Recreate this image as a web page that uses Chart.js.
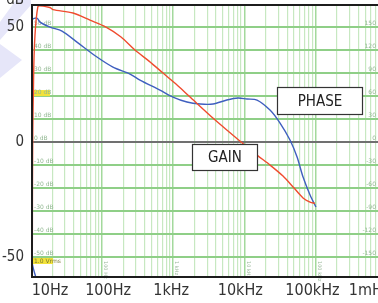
<!DOCTYPE html>
<html>
<head>
<meta charset="utf-8">
<script src="https://cdn.jsdelivr.net/npm/chart.js@4"></script>
<style>
html,body{margin:0;padding:0;background:#fff;}
canvas{display:block;}
</style>
</head>
<body>
<canvas id="bode" width="378" height="303"></canvas>
<script>
// ---- values ----
const gainFreq = [10.4, 10.77, 12.5, 18.5, 20.3, 39, 67.6, 113.5, 184.5, 290, 457, 719, 1094, 1667, 3750, 5900, 9000, 15100, 22970, 35000, 50000, 66900, 84000, 98700];
const gainDb   = [-60, 19.6, 58.9, 58.5, 57.6, 56.1, 53.0, 50.0, 45.7, 40.0, 35.2, 30.0, 25.2, 20.0, 10.0, 4.8, 0.0, -5.7, -10.0, -14.8, -20.0, -24.3, -26.1, -26.7];

const phaseFreq = [11.76, 10.4, 10.4, 12.15, 13.38, 18.5, 27.3, 44.3, 84.7, 142, 247, 341, 651, 993, 1560, 2390, 3630, 5670, 8150, 10890, 15100, 22970, 31800, 43900, 55200, 67000, 84000, 101600];
const phaseDeg  = [-177.4, -156.5, 159.1, 161.7, 156.5, 150.0, 144.8, 130.4, 110.9, 97.8, 88.7, 80.9, 67.8, 58.7, 52.2, 49.6, 49.6, 54.8, 57.4, 56.1, 54.8, 41.7, 24.8, 2.6, -19.6, -45.7, -69.1, -84.8];

const dbGrid      = [-50, -40, -30, -20, -10, 0, 10, 20, 30, 40, 50];
const dbMajor     = [-50, 0, 50];
const phaseTags   = ['-150', '-120', '-90', '-60', '-30', '0', '30', '60', '90', '120', '150'];
const decades     = [10, 100, 1000, 10000, 100000, 1000000];
const freqLabels  = ['10Hz', '100Hz', '1kHz', '10kHz', '100kHz', '1mHz'];
const labelNudge  = [19, 6, -2, -4, -3, -17];
const decadeTags  = ['', '100 Hz', '1 kHz', '10 kHz', '100 kHz', ''];

const notes    = ['PHASE', 'GAIN'];
const noteFreq = [[28840, 452000], [1836, 15100]];
const noteDb   = [[23.9, 12.2], [-0.87, -12.2]];

const X_MIN = 10.33, X_MAX = 758600;
const Y_MIN = -58.7, Y_MAX = 59.6;

const NARROW = '"Liberation Sans Narrow", "DejaVu Sans Condensed", "Roboto Condensed", sans-serif';

// 1..9 per decade for the log grid
const xGrid = [];
decades.forEach(d => [1,2,3,4,5,6,7,8,9].forEach(m => {
  const v = d * m;
  if (v >= X_MIN && v <= X_MAX) xGrid.push(v);
}));
const isDecade = v => Math.abs(Math.log10(v) - Math.round(Math.log10(v))) < 1e-6;

const noPad = s => { s.paddingTop = 0; s.paddingBottom = 0; s.paddingLeft = 0; s.paddingRight = 0; };

const bodePlugin = {
  id: 'bode',
  beforeDraw(chart) {
    const c = chart.ctx;
    c.save();
    c.fillStyle = '#e6e6f9';
    c.beginPath(); c.moveTo(16, 0); c.lineTo(31, 0); c.lineTo(31, 5); c.lineTo(0, 40); c.lineTo(0, 22); c.closePath(); c.fill();
    c.beginPath(); c.moveTo(0, 44); c.lineTo(22, 60); c.lineTo(0, 78); c.closePath(); c.fill();
    c.restore();
  },
  beforeDatasetsDraw(chart) {
    const { ctx: c, chartArea: a, scales } = chart;
    const x = scales.x, y = scales.y;
    c.save();
    c.font = '6px "DejaVu Sans"';
    c.textBaseline = 'alphabetic';
    dbGrid.forEach((v, i) => {
      const py = y.getPixelForValue(v);
      if (v === 20) {
        c.fillStyle = '#f2e23a';
        c.fillRect(a.left + 1, py - 6, 17, 6);
      }
      c.fillStyle = '#92b892';
      c.textAlign = 'left';
      c.fillText(v + ' dB', a.left + 2, py - 2);
      c.textAlign = 'right';
      c.fillText(phaseTags[i], a.right - 2, py - 2);
    });
    // yellow marker under the -50 dB line
    const pm = y.getPixelForValue(-50);
    c.fillStyle = '#f2e23a';
    c.fillRect(a.left + 1, pm + 1, 20, 6);
    c.fillStyle = '#7a7a30';
    c.textAlign = 'left';
    c.fillText('1.0 Vrms', a.left + 2, pm + 6);
    // rotated decade tags near the bottom
    c.fillStyle = '#9ab89a';
    c.font = '5px "DejaVu Sans"';
    decades.forEach((d, i) => {
      if (!decadeTags[i]) return;
      const px = x.getPixelForValue(d);
      c.save();
      c.translate(px + 3.5, a.bottom - 16);
      c.rotate(Math.PI / 2);
      c.textBaseline = 'middle';
      c.textAlign = 'left';
      c.fillText(decadeTags[i], 0, 0);
      c.restore();
    });
    c.restore();
  },
  afterDatasetsDraw(chart) {
    const { ctx: c, chartArea: a, scales } = chart;
    const x = scales.x, y = scales.y;
    c.save();
    // frame
    c.strokeStyle = '#1c1c1c';
    c.lineWidth = 2;
    c.beginPath();
    c.moveTo(a.right, a.top); c.lineTo(a.left, a.top);
    c.lineTo(a.left, a.bottom); c.lineTo(a.right, a.bottom);
    c.stroke();

    // note boxes
    notes.forEach((t, i) => {
      const x0 = Math.round(x.getPixelForValue(noteFreq[i][0])) + 0.5;
      const x1 = Math.round(x.getPixelForValue(noteFreq[i][1])) + 0.5;
      const y0 = Math.round(y.getPixelForValue(noteDb[i][0])) + 0.5;
      const y1 = Math.round(y.getPixelForValue(noteDb[i][1])) + 0.5;
      c.fillStyle = '#fff';
      c.fillRect(x0, y0, x1 - x0, y1 - y0);
      c.strokeStyle = '#333';
      c.lineWidth = 1.2;
      c.strokeRect(x0, y0, x1 - x0, y1 - y0);
      c.fillStyle = '#222';
      c.font = '15px ' + NARROW;
      c.textAlign = 'center';
      c.textBaseline = 'middle';
      c.fillText(t, (x0 + x1) / 2, (y0 + y1) / 2 + 1);
    });

    // frequency labels under the plot
    c.fillStyle = '#333';
    c.font = '16px ' + NARROW;
    c.textAlign = 'center';
    c.textBaseline = 'middle';
    decades.forEach((d, i) => {
      c.fillText(freqLabels[i], x.getPixelForValue(d) + labelNudge[i], 291);
    });

    // unit above the left axis
    c.font = '15px ' + NARROW;
    c.textAlign = 'right';
    c.textBaseline = 'alphabetic';
    c.fillText('dB', 24, 4);
    c.restore();
  }
};

new Chart(document.getElementById('bode'), {
  type: 'line',
  data: {
    datasets: [
      {
        label: 'GAIN',
        data: gainFreq.map((f, i) => ({ x: f, y: gainDb[i] })),
        yAxisID: 'y',
        borderColor: '#f04b2e',
        borderWidth: 1.4,
        pointRadius: 0,
        tension: 0.3,
      },
      {
        label: 'PHASE',
        data: phaseFreq.map((f, i) => ({ x: f, y: phaseDeg[i] })),
        yAxisID: 'y2',
        borderColor: '#3f5fbf',
        borderWidth: 1.4,
        pointRadius: 0,
        tension: 0.3,
      }
    ]
  },
  options: {
    responsive: false,
    animation: false,
    layout: { padding: { top: 5, left: 0, right: 0, bottom: 0 } },
    plugins: { legend: { display: false }, tooltip: { enabled: false } },
    scales: {
      x: {
        type: 'logarithmic',
        min: X_MIN,
        max: X_MAX,
        afterBuildTicks: s => { s.ticks = xGrid.map(v => ({ value: v })); },
        afterFit: s => { s.height = 26; noPad(s); },
        ticks: { display: false },
        grid: {
          drawTicks: false,
          color: ctx => isDecade(ctx.tick.value) ? '#a3d99c' : '#c7e8c1',
          lineWidth: ctx => isDecade(ctx.tick.value) ? 1.5 : 1.2,
        },
        border: { display: false },
      },
      y: {
        min: Y_MIN,
        max: Y_MAX,
        afterBuildTicks: s => { s.ticks = dbGrid.map(v => ({ value: v })); },
        afterFit: s => { s.width = 32; noPad(s); },
        ticks: {
          padding: 8,
          color: '#333',
          font: { family: NARROW, size: 15 },
          callback: v => dbMajor.includes(v) ? String(v) : '',
        },
        grid: {
          drawTicks: false,
          color: ctx => ctx.tick.value === 0 ? '#707070' : '#8fcf87',
          lineWidth: 2,
        },
        border: { display: false },
      },
      y2: {
        display: false,
        min: Y_MIN * 3,
        max: Y_MAX * 3,
      }
    }
  },
  plugins: [bodePlugin]
});
</script>
</body>
</html>
